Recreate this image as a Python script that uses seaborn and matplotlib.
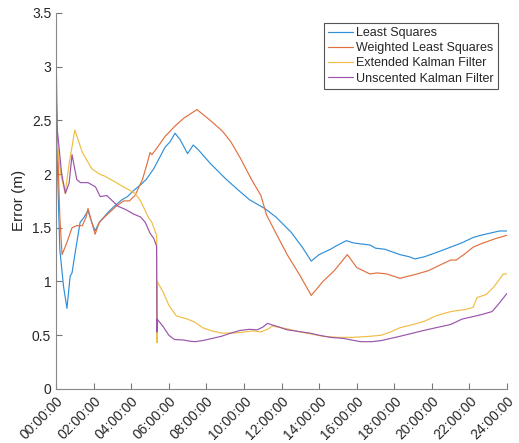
import matplotlib
matplotlib.use("Agg")
import matplotlib.pyplot as plt
import seaborn as sns
import pandas as pd
import numpy as np

# ---- data (hours since start, error in m) ----
ls_hours = [0.0, 0.0, 0.05, 0.2, 0.4, 0.58, 0.75, 0.85, 1.0, 1.28, 1.5, 1.7, 1.9, 2.08, 2.3, 2.55, 2.8, 3.1, 3.5, 3.8, 4.15,
            4.5, 4.8, 5.2, 5.5, 5.8, 6.07, 6.33, 6.6, 7.0, 7.3, 7.6, 8.2, 9.0, 9.7, 10.3, 11.1, 11.7, 12.5, 13.1, 13.58,
            14.0, 14.6, 15.0, 15.45, 15.8, 16.2, 16.7, 17.0, 17.5, 18.3, 18.8, 19.1, 19.6, 20.4, 21.0, 21.6, 22.2, 22.6,
            23.1, 23.6, 24.0]
ls_vals = [1.5, 2.63, 2.2, 1.3, 0.95, 0.75, 1.05, 1.08, 1.25, 1.55, 1.6, 1.66, 1.55, 1.47, 1.55, 1.6, 1.65, 1.7, 1.76, 1.79, 1.85,
           1.9, 1.95, 2.05, 2.15, 2.25, 2.3, 2.38, 2.32, 2.19, 2.27, 2.22, 2.1, 1.96, 1.85, 1.76, 1.68, 1.6, 1.46, 1.32, 1.19,
           1.25, 1.3, 1.34, 1.38, 1.36, 1.35, 1.34, 1.31, 1.3, 1.25, 1.23, 1.21, 1.23, 1.28, 1.32, 1.36, 1.41, 1.43,
           1.45, 1.47, 1.47]

wls_hours = [0.0, 0.0, 0.08, 0.2, 0.32, 0.55, 0.85, 1.1, 1.4, 1.6, 1.7, 1.9, 2.08, 2.3, 2.7, 3.2, 3.6, 3.9, 4.2, 4.6,
             4.85, 5.0, 5.1, 5.4, 5.8, 6.35, 6.8, 7.5, 8.2, 8.85, 9.3, 9.8, 10.4, 10.9, 11.2, 11.7, 12.3, 13.0, 13.58,
             14.2, 14.8, 15.5, 16.0, 16.7, 17.1, 17.6, 18.3, 19.0, 19.8, 20.4, 21.0, 21.3, 21.7, 22.2, 22.6, 23.4, 24.0]
wls_vals = [1.6, 3.17, 2.3, 1.6, 1.25, 1.35, 1.5, 1.52, 1.52, 1.6, 1.68, 1.55, 1.44, 1.55, 1.62, 1.7, 1.75, 1.75, 1.8, 1.95,
            2.1, 2.2, 2.18, 2.25, 2.35, 2.45, 2.52, 2.6, 2.5, 2.4, 2.3, 2.15, 1.95, 1.8, 1.62, 1.45, 1.25, 1.05, 0.87,
            1.0, 1.1, 1.25, 1.13, 1.07, 1.08, 1.07, 1.03, 1.06, 1.1, 1.15, 1.2, 1.2, 1.25, 1.32, 1.35, 1.4, 1.43]

ekf_hours = [0.0, 0.0, 0.05, 0.25, 0.48, 0.7, 1.0, 1.4, 1.9, 2.3, 2.6, 3.2, 3.6, 4.2, 4.5, 4.9, 5.1, 5.35, 5.37, 5.38,
             5.7, 6.0, 6.4, 7.0, 7.4, 7.8, 8.3, 8.8, 9.5, 10.0, 10.5, 10.9, 11.3, 11.5, 12.3, 13.0, 13.6, 14.2, 15.0,
             15.8, 16.7, 17.3, 17.8, 18.3, 19.0, 19.6, 20.2, 21.0, 21.8, 22.2, 22.4, 22.9, 23.3, 23.8, 24.0]
ekf_vals = [0.43, 2.36, 2.3, 2.0, 1.82, 2.1, 2.41, 2.2, 2.05, 2.0, 1.98, 1.92, 1.88, 1.82, 1.75, 1.6, 1.55, 1.43, 0.43, 1.0,
            0.9, 0.78, 0.68, 0.65, 0.62, 0.57, 0.54, 0.52, 0.52, 0.53, 0.54, 0.53, 0.56, 0.585, 0.56, 0.53, 0.51, 0.49, 0.48,
            0.48, 0.49, 0.5, 0.53, 0.57, 0.6, 0.63, 0.68, 0.72, 0.74, 0.76, 0.85, 0.88, 0.95, 1.07, 1.07]

ukf_hours = [0.0, 0.0, 0.05, 0.3, 0.5, 0.7, 0.85, 1.1, 1.3, 1.7, 2.1, 2.35, 2.7, 3.0, 3.3, 3.7, 4.1, 4.5, 4.75, 5.0,
             5.2, 5.35, 5.37, 5.38, 5.7, 6.0, 6.3, 6.8, 7.1, 7.4, 7.8, 8.3, 8.8, 9.3, 9.8, 10.3, 10.7, 11.0, 11.25,
             11.8, 12.3, 13.5, 14.0, 14.6, 15.3, 15.9, 16.2, 16.8, 17.3, 18.3, 19.0, 19.7, 21.0, 21.6, 22.1, 22.6,
             23.2, 23.5, 24.0]
ukf_vals = [0.78, 2.82, 2.44, 2.0, 1.82, 1.92, 2.18, 1.95, 1.92, 1.92, 1.88, 1.79, 1.8, 1.75, 1.7, 1.67, 1.63, 1.6, 1.55, 1.45,
            1.4, 1.33, 0.53, 0.65, 0.58, 0.5, 0.46, 0.455, 0.445, 0.44, 0.45, 0.47, 0.49, 0.52, 0.545, 0.555, 0.55, 0.575, 0.61,
            0.58, 0.55, 0.52, 0.5, 0.48, 0.47, 0.45, 0.44, 0.44, 0.45, 0.49, 0.52, 0.55, 0.6, 0.65, 0.67, 0.69,
            0.72, 0.78, 0.89]

series_names = ["Least Squares", "Weighted Least Squares", "Extended Kalman Filter", "Unscented Kalman Filter"]
series_colors = ["#2F8FD8", "#E2703F", "#F0BD45", "#9A55AA"]
tick_hours = list(range(0, 25, 2))
tick_labels = [f"{h:02d}:00:00" for h in tick_hours]

sns.set_style("ticks")
plt.rcParams['font.family'] = ['Liberation Sans', 'DejaVu Sans']

fig = plt.figure(figsize=(5.19, 4.43), dpi=100)
ax = fig.add_axes([0.108, 0.122, 0.869, 0.849])

all_data = [(ls_hours, ls_vals), (wls_hours, wls_vals), (ekf_hours, ekf_vals), (ukf_hours, ukf_vals)]
for (hrs, vals), name, col in zip(all_data, series_names, series_colors):
    df = pd.DataFrame({"t": hrs, "err": vals})
    sns.lineplot(data=df, x="t", y="err", sort=False, estimator=None, ax=ax,
                 color=col, linewidth=0.85, label=name)

ax.set_xlim(0, 24)
ax.set_ylim(0, 3.5)
ax.set_xticks(tick_hours)
ax.set_xticklabels(tick_labels, rotation=45, ha='right', rotation_mode='anchor')
ax.set_yticks(np.arange(0, 3.51, 0.5))
ax.set_yticklabels(["0", "0.5", "1", "1.5", "2", "2.5", "3", "3.5"])
ax.set_xlabel("")
ax.set_ylabel("Error (m)", fontsize=11, color="#262626")
ax.tick_params(direction='in', length=4, width=0.8, colors="#262626", labelsize=10, color="#777777")
for s in ["left", "bottom"]:
    ax.spines[s].set_color("#888888")
    ax.spines[s].set_linewidth(0.8)
sns.despine(ax=ax)

leg = ax.legend(loc="upper right", bbox_to_anchor=(0.985, 0.98), fontsize=9, frameon=True, fancybox=False,
                edgecolor="#555555", framealpha=1, borderpad=0.35, labelspacing=0.25, handlelength=2.0,
                handletextpad=0.2, borderaxespad=0.2)
leg.get_frame().set_linewidth(0.8)

fig.savefig("out.png", dpi=100)
